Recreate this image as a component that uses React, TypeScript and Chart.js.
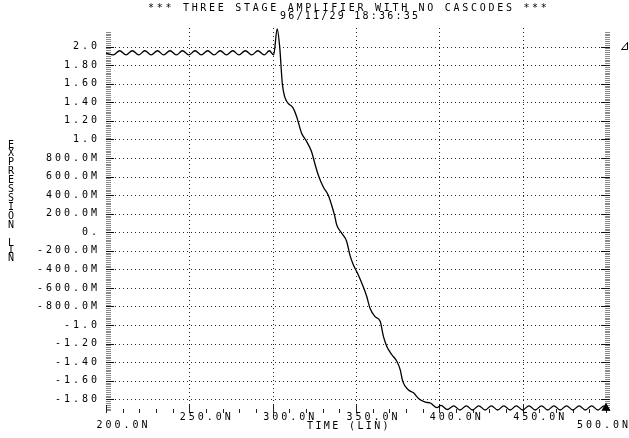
import React, { useEffect, useRef } from "react";
import { Chart, registerables } from "chart.js";

Chart.register(...registerables);

// ---------- text ----------
const TITLE = "*** THREE STAGE AMPLIFIER WITH NO CASCODES ***";
const DATE_LINE = "96/11/29 18:36:35";
const X_TITLE = "TIME (LIN)";
const Y_TITLE_TOP = "EXPRESSION";
const Y_TITLE_BOTTOM = "LIN";

// ---------- axes ----------
const X_MIN = 200;
const X_MAX = 500;
const Y_MIN = -1.926;
const Y_MAX = 2.2;

const xTicks = [200, 250, 300, 350, 400, 450, 500];
const xTickLabels = ["200.0N", "250.0N", "300.0N", "350.0N", "400.0N", "450.0N", "500.0N"];

const yTicks = [2.0, 1.8, 1.6, 1.4, 1.2, 1.0, 0.8, 0.6, 0.4, 0.2, 0, -0.2, -0.4, -0.6, -0.8, -1.0, -1.2, -1.4, -1.6, -1.8];
const yTickLabels = [
  "2.0", "1.80", "1.60", "1.40", "1.20", "1.0", "800.0M", "600.0M", "400.0M", "200.0M",
  "0.", "-200.0M", "-400.0M", "-600.0M", "-800.0M", "-1.0", "-1.20", "-1.40", "-1.60", "-1.80",
];

// ---------- series (time in ns, value in V) ----------
const timeNs = [
  200.0, 204.4, 208.2, 212.0, 215.8, 219.6, 223.3, 227.1, 230.9, 234.6,
  238.4, 242.2, 245.9, 249.7, 253.4, 257.2, 261.0, 264.8, 268.5, 272.3,
  276.1, 279.8, 283.6, 287.4, 291.1, 294.9, 298.0, 300.6, 302.7, 304.2,
  305.8, 307.2, 309.2, 312.2, 314.3, 317.3, 320.3, 323.3, 325.3, 327.3,
  330.3, 333.3, 335.4, 337.3, 338.4, 341.4, 344.4, 346.4, 348.4, 351.4,
  354.4, 356.4, 358.4, 361.4, 364.5, 366.4, 368.5, 371.5, 374.5, 376.5,
  378.1, 381.5, 384.5, 387.5, 391.6, 394.6, 398.6, 401.0, 404.8, 408.6,
  412.4, 416.2, 419.9, 423.7, 427.5, 431.2, 435.0, 438.7, 442.5, 446.2,
  450.0, 453.8, 457.5, 461.3, 465.0, 468.8, 472.5, 476.3, 480.1, 483.9,
  487.6, 491.4, 495.1, 498.9, 500.0,
];
const outputV = [
  1.93, 1.91, 1.955, 1.91, 1.955, 1.91, 1.955, 1.91, 1.955, 1.91,
  1.955, 1.91, 1.955, 1.91, 1.955, 1.91, 1.955, 1.91, 1.955, 1.91,
  1.955, 1.91, 1.955, 1.91, 1.955, 1.91, 1.955, 1.91, 2.19, 2.0,
  1.6, 1.46, 1.39, 1.34, 1.25, 1.07, 0.98, 0.87, 0.74, 0.62,
  0.49, 0.4, 0.29, 0.17, 0.08, -0.01, -0.1, -0.25, -0.35, -0.46,
  -0.59, -0.69, -0.82, -0.91, -0.96, -1.12, -1.23, -1.32, -1.39, -1.48,
  -1.61, -1.7, -1.73, -1.79, -1.83, -1.84, -1.89, -1.865, -1.91, -1.87,
  -1.915, -1.87, -1.915, -1.87, -1.915, -1.87, -1.915, -1.87, -1.915, -1.87,
  -1.915, -1.87, -1.915, -1.87, -1.915, -1.87, -1.915, -1.87, -1.915, -1.87,
  -1.915, -1.87, -1.915, -1.87, -1.895,
];

const FONT = "10px 'DejaVu Sans Mono', monospace";

function drawSpaced(ctx: CanvasRenderingContext2D, text: string, firstCenterX: number, y: number, pitch: number) {
  for (let i = 0; i < text.length; i++) {
    const ch = text[i];
    if (ch === " ") continue;
    ctx.fillText(ch, firstCenterX + i * pitch, y);
  }
}

function hDots(ctx: CanvasRenderingContext2D, y: number, x0: number, x1: number) {
  const yy = Math.round(y);
  for (let x = Math.round(x0); x <= x1; x += 4) ctx.fillRect(x, yy, 1, 1);
}
function vDots(ctx: CanvasRenderingContext2D, x: number, y0: number, y1: number) {
  const xx = Math.round(x);
  for (let y = Math.round(y0); y <= y1; y += 4) ctx.fillRect(xx, y, 1, 1);
}

const hspicePlugin = {
  id: "hspiceFrame",
  beforeDatasetsDraw(chart: any) {
    const ctx: CanvasRenderingContext2D = chart.ctx;
    const xs = chart.scales.x;
    const ys = chart.scales.y;
    const area = chart.chartArea;
    const left = Math.round(xs.getPixelForValue(X_MIN));
    const right = Math.round(xs.getPixelForValue(X_MAX));
    const top = Math.round(area.top);
    const bottom = Math.round(area.bottom);
    ctx.save();
    // dotted grid
    ctx.fillStyle = "#222";
    yTicks.forEach((v) => hDots(ctx, ys.getPixelForValue(v), left + 1, right - 3));
    xTicks.forEach((t) => {
      if (t === X_MIN || t === X_MAX) return;
      vDots(ctx, xs.getPixelForValue(t), top, bottom - 4);
    });
    // left & right axis tick columns
    for (let k = Math.ceil(Y_MIN / 0.02); k * 0.02 <= Y_MAX + 1e-9; k++) {
      const v = k * 0.02;
      const py = Math.round(ys.getPixelForValue(v));
      if (py < top + 4) continue;
      const major = Math.abs(k % 10) === 0;
      ctx.fillStyle = major ? "#111" : "#8a8a8a";
      ctx.fillRect(left, py, major ? 8 : 5, 1);
      ctx.fillRect(right + (major ? -5 : -1), py, major ? 9 : 5, 1);
    }
    // bottom ticks
    ctx.fillStyle = "#222";
    for (let t = X_MIN; t <= X_MAX; t += 10) {
      const px = Math.round(xs.getPixelForValue(t));
      const major = t % 50 === 0;
      ctx.fillRect(px, major ? bottom - 6 : bottom - 2, 1, major ? 8 : 4);
    }
    ctx.restore();
  },
  afterDraw(chart: any) {
    const ctx: CanvasRenderingContext2D = chart.ctx;
    const xs = chart.scales.x;
    const ys = chart.scales.y;
    const area = chart.chartArea;
    const bottom = area.bottom;
    const left = xs.getPixelForValue(X_MIN);
    ctx.save();
    ctx.fillStyle = "#000";
    ctx.font = FONT;
    ctx.textAlign = "center";
    ctx.textBaseline = "middle";
    // titles
    drawSpaced(ctx, TITLE, 151, 8, 8.73);
    drawSpaced(ctx, DATE_LINE, 283, 16, 8.25);
    drawSpaced(ctx, X_TITLE, 310, bottom + 15, 8.4);
    // y labels, right aligned
    yTicks.forEach((v, i) => {
      const txt = yTickLabels[i];
      const py = ys.getPixelForValue(v);
      const lastCenter = left - 12;
      drawSpaced(ctx, txt, lastCenter - (txt.length - 1) * 9, py, 9);
    });
    // x labels
    xTicks.forEach((t, i) => {
      const txt = xTickLabels[i];
      const px = xs.getPixelForValue(t);
      if (t === X_MIN) {
        drawSpaced(ctx, txt, px - 6.5, bottom + 14, 9);
      } else if (t === X_MAX) {
        drawSpaced(ctx, txt, px - 26, bottom + 14, 9);
      } else {
        drawSpaced(ctx, txt, px - 6.5, bottom + 6, 9);
      }
    });
    // vertical y-axis title
    for (let i = 0; i < Y_TITLE_TOP.length; i++) ctx.fillText(Y_TITLE_TOP[i], 11, 145 + i * 8.9);
    for (let i = 0; i < Y_TITLE_BOTTOM.length; i++) ctx.fillText(Y_TITLE_BOTTOM[i], 11, 243 + i * 7.5);
    // legend symbol (triangle)
    ctx.strokeStyle = "#000";
    ctx.lineWidth = 1;
    ctx.beginPath();
    ctx.moveTo(621.5, 49.5);
    ctx.lineTo(627.5, 42.5);
    ctx.lineTo(627.5, 49.5);
    ctx.closePath();
    ctx.stroke();
    ctx.restore();
  },
};

export default function App() {
  const ref = useRef<HTMLCanvasElement | null>(null);
  useEffect(() => {
    if (!ref.current) return;
    const pts = timeNs.map((t, i) => ({ x: t, y: outputV[i] }));
    const radii = pts.map((_, i) => (i === pts.length - 1 ? 4 : 0));
    const chart = new Chart(ref.current, {
      type: "line",
      data: {
        datasets: [
          {
            data: pts,
            borderColor: "#000",
            borderWidth: 1.3,
            pointRadius: radii,
            pointHoverRadius: 0,
            pointStyle: "triangle",
            pointBackgroundColor: "#000",
            pointBorderColor: "#000",
            cubicInterpolationMode: "monotone",
            fill: false,
            clip: false,
          } as any,
        ],
      },
      options: {
        animation: false,
        responsive: false,
        devicePixelRatio: 1,
        events: [],
        layout: { padding: { left: 106, right: 23, top: 28, bottom: 27 } },
        plugins: { legend: { display: false }, tooltip: { enabled: false } },
        scales: {
          x: { type: "linear", display: false, min: X_MIN, max: X_MAX },
          y: { type: "linear", display: false, min: Y_MIN, max: Y_MAX },
        },
      },
      plugins: [hspicePlugin],
    });
    return () => chart.destroy();
  }, []);
  return (
    <div style={{ position: "fixed", left: 0, top: 0, width: 629, height: 438, background: "#fff" }}>
      <canvas ref={ref} width={629} height={438} style={{ display: "block", width: 629, height: 438 }} />
    </div>
  );
}
